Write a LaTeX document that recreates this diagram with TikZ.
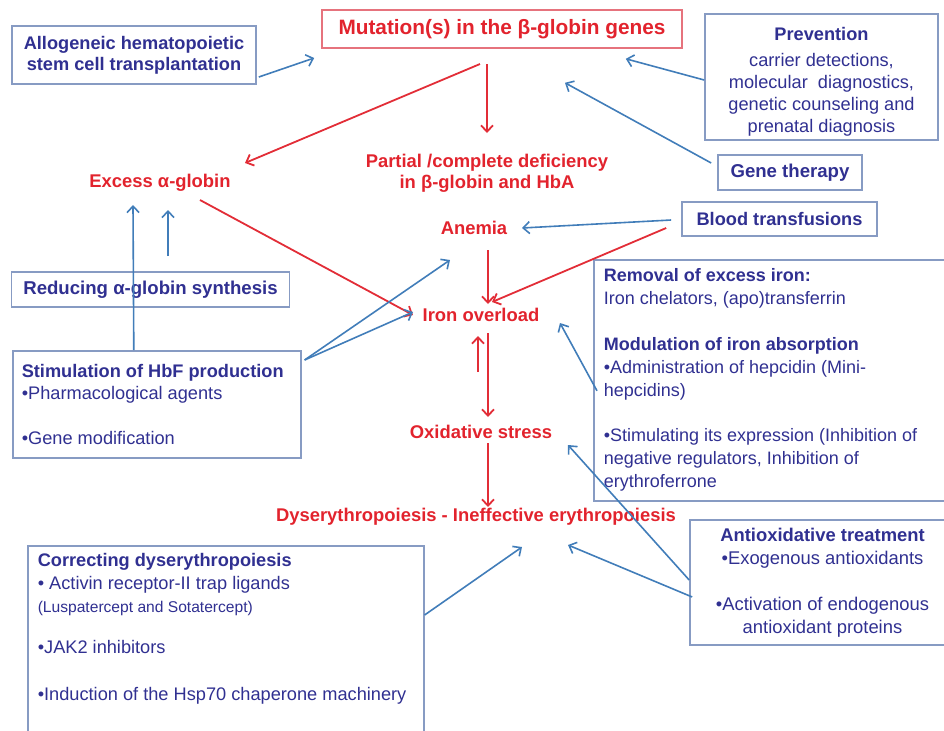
\documentclass[tikz,border=0pt]{standalone}
\usepackage{fontspec}
\setmainfont{Liberation Sans}
\usetikzlibrary{arrows.meta,positioning,calc}
\definecolor{redtxt}{RGB}{226,35,45}
\definecolor{redbox}{RGB}{230,115,125}
\definecolor{redarr}{RGB}{226,45,55}
\definecolor{bluetxt}{RGB}{48,48,145}
\definecolor{boxline}{RGB}{135,155,195}
\definecolor{bluearr}{RGB}{65,125,185}
\begin{document}
\begin{tikzpicture}[x=0.5pt,y=-0.5pt,
    lbl/.style={font=\fontsize{9.2}{10.5}\selectfont\bfseries, text=redtxt, inner sep=1pt, align=center},
    bx/.style={draw=boxline, line width=0.8pt, text=bluetxt, font=\fontsize{9.1}{11}\selectfont, inner xsep=5pt, inner ysep=0pt},
    rar/.style={-{Straight Barb[length=3.2pt,width=6pt]}, draw=redarr, line width=0.9pt},
    bar/.style={-{Straight Barb[length=3.2pt,width=6pt]}, draw=bluearr, line width=0.8pt},
  ]
  \useasboundingbox (0,0) rectangle (944,730);
  % central chain
  \node[draw=redbox, line width=0.8pt, text=redtxt, font=\fontsize{10.4}{12}\selectfont\bfseries,
        minimum width=180pt, minimum height=19pt] (mut) at (502,29) {Mutation(s) in the β-globin genes};
  \node[lbl] (excess) at (160,183) {Excess α-globin};
  \node[lbl] (partial) at (487,173.5) {Partial /complete deficiency\\in β-globin and HbA};
  \node[lbl] (anemia) at (474,228) {Anemia};
  \node[lbl] (iron) at (481,315) {Iron overload};
  \node[lbl] (oxid) at (481,432) {Oxidative stress};
  \node[lbl] (dys) at (476,517) {Dyserythropoiesis - Ineffective erythropoiesis};
  % treatment boxes
  \node[bx, font=\fontsize{9.1}{10.5}\selectfont\bfseries, align=center, minimum width=122pt, minimum height=29pt] (allo) at (134,55)
    {Allogeneic hematopoietic\\stem cell transplantation};
  \node[bx, font=\fontsize{9.1}{11}\selectfont, align=center, minimum width=116.5pt, minimum height=63pt] (prev) at (821.5,77)
    {\rule{0pt}{11pt}{\bfseries Prevention}\\[2pt]carrier detections,\\molecular\ \ diagnostics,\\genetic counseling and\\prenatal diagnosis};
  \node[bx, font=\fontsize{9.3}{10}\selectfont\bfseries, minimum width=72pt, minimum height=17.5pt] (gene) at (790,172.5) {Gene therapy};
  \node[bx, font=\fontsize{9.1}{10}\selectfont\bfseries, minimum width=97.5pt, minimum height=17pt] (blood) at (779.5,219) {Blood transfusions};
  \node[bx, font=\fontsize{9}{11.5}\selectfont, anchor=north west, text width=171pt, align=flush left, minimum height=120.5pt] (removal) at (593,259)
    {{\bfseries Removal of excess iron:}\\
     Iron chelators, (apo)transferrin\\[11.5pt]
     {\bfseries Modulation of iron absorption}\\
     •Administration of hepcidin (Mini-\\
     hepcidins)\\[11pt]
     •Stimulating its expression (Inhibition of\\
     negative regulators, Inhibition of\\
     erythroferrone};
  \node[bx, font=\fontsize{9.3}{10}\selectfont\bfseries, minimum width=139pt, minimum height=17.5pt] (reduce) at (150.5,289.5) {Reducing α-globin synthesis};
  \node[bx, font=\fontsize{9.1}{11}\selectfont, anchor=north west, inner xsep=4.5pt, text width=135pt, align=flush left, minimum height=53.5pt] (hbf) at (12,350)
    {{\bfseries Stimulation of HbF production}\\
     •Pharmacological agents\\[11.5pt]
     •Gene modification};
  \node[bx, font=\fontsize{9.1}{11.5}\selectfont, anchor=north west, text width=188pt, align=flush left, inner ysep=4pt] (corr) at (27,545)
    {{\bfseries Correcting dyserythropoiesis}\\
     • Activin receptor-II trap ligands\\
     {\fontsize{7.8}{10}\selectfont (Luspatercept and Sotatercept)}\\[9pt]
     •JAK2 inhibitors\\[12pt]
     •Induction of the Hsp70 chaperone machinery\\[30pt]
     \mbox{}};
  \node[bx, font=\fontsize{9.2}{11.5}\selectfont, align=center, minimum width=132.5pt, minimum height=62.5pt] (anti) at (822.5,582.5)
    {{\bfseries Antioxidative treatment}\\
     •Exogenous antioxidants\\[11.5pt]
     •Activation of endogenous\\
     antioxidant proteins};
  % red arrows
  \draw[rar] ($(mut.center)+(-15,35)$) -- ($(partial.center)+(0,-40.5)$);
  \draw[rar] ($(mut.center)+(-22,35)$) -- ($(excess.center)+(85,-20)$);
  \draw[rar] ($(excess.center)+(40,17)$) -- ($(iron.center)+(-68,0)$);
  \draw[rar] ($(anemia.center)+(14,22)$) -- ($(iron.center)+(7,-11)$);
  \draw[rar] ($(blood.west)+(-15,9)$) -- ($(iron.center)+(11,-13)$);
  \draw[rar] ($(iron.center)+(7,18)$) -- ($(oxid.center)+(7,-15)$);
  \draw[rar] ($(iron.center)+(-3,57)$) -- ($(iron.center)+(-3,21)$);
  \draw[rar] ($(oxid.center)+(7,11)$) -- ($(dys.center)+(12,-10)$);
  % blue arrows
  \draw[bar] ($(allo.east)+(2,22)$) -- ($(mut.west)+(-7,29)$);
  \draw[bar] ($(prev.west)+(0,3)$) -- ($(mut.south east)+(-57,10)$);
  \draw[bar] ($(gene.west)+(-6,-9.5)$) -- ($(mut.south)+(63,34)$);
  \draw[bar] ($(blood.west)+(-10,1)$) -- ($(anemia.center)+(48,0)$);
  \draw[bar] ($(reduce.north)+(17.5,-15)$) -- ($(excess.center)+(8,27)$);
  \draw[bar] ($(hbf.north)+(-23,0)$) -- ($(excess.center)+(-27,22)$);
  \draw[bar] ($(hbf.north east)+(3,10)$) -- ($(anemia.center)+(-24,32)$);
  \draw[bar] ($(hbf.north east)+(3,10)$) -- ($(iron.center)+(-68,-3)$);
  \draw[bar] ($(removal.west)+(4,10.5)$) -- ($(iron.center)+(79,8)$);
  \draw[bar] ($(anti.west)+(0,-2.5)$) -- ($(oxid.center)+(87,13)$);
  \draw[bar] ($(anti.west)+(3,14.5)$) -- ($(dys.center)+(92,28)$);
  \draw[bar] ($(corr.north east)+(0,70)$) -- ($(dys.center)+(46,30)$);
\end{tikzpicture}
\end{document}
